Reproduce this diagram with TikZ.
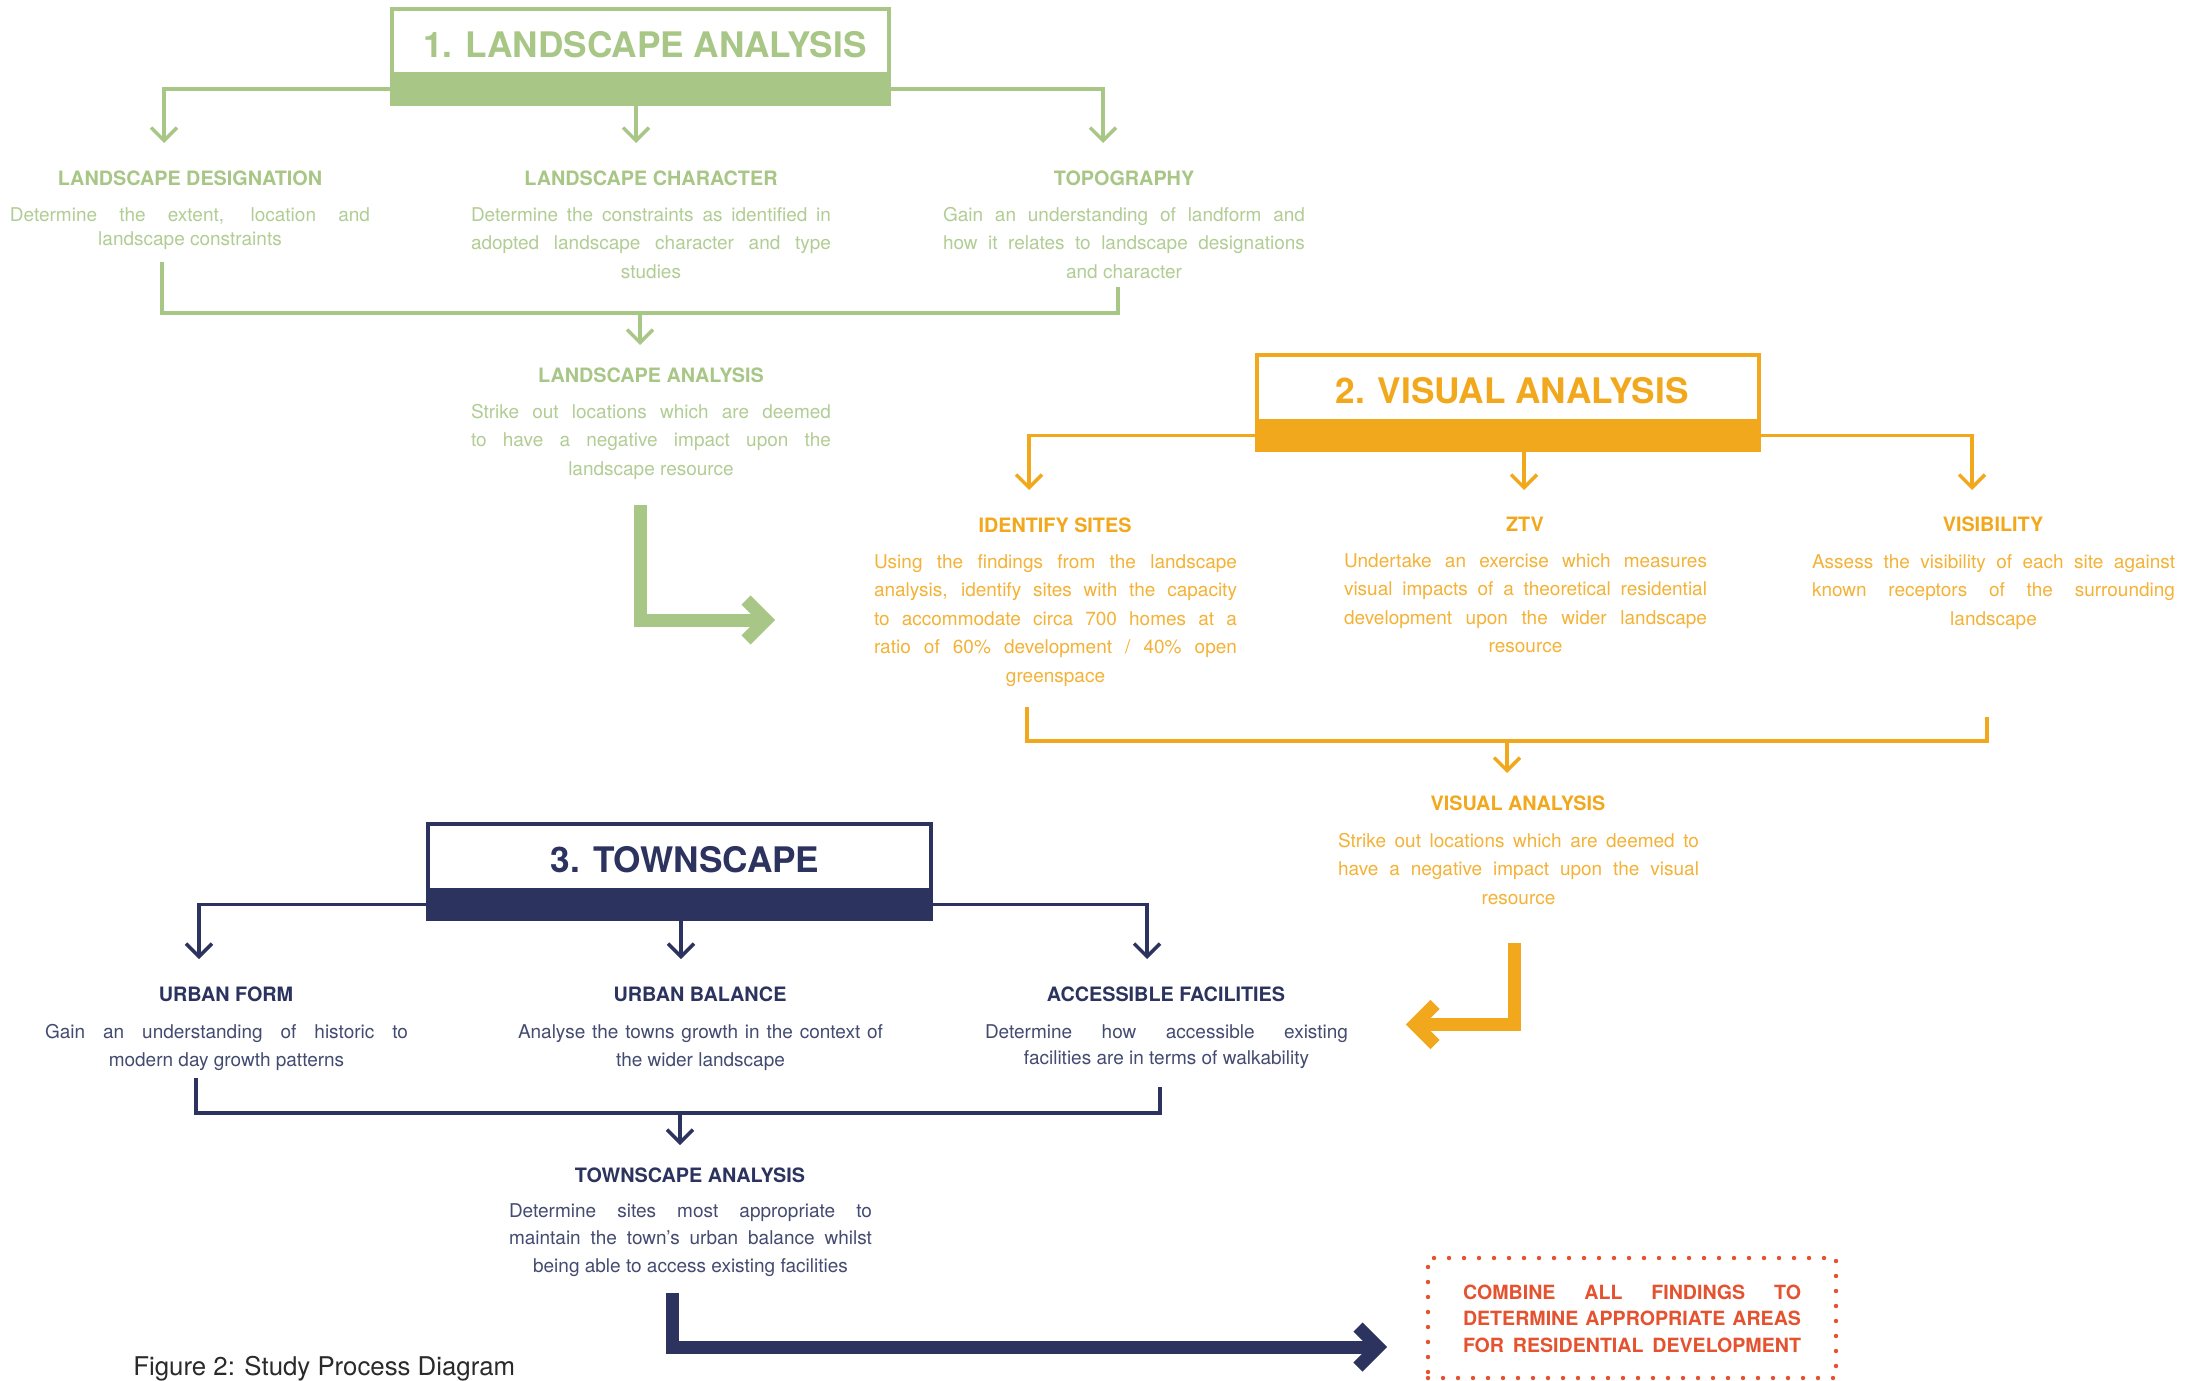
\documentclass[tikz,border=0pt]{standalone}
\usepackage{fontspec}
\setmainfont{TeX Gyre Heros}
\usetikzlibrary{arrows.meta}
\definecolor{lgreen}{HTML}{A8C686}
\definecolor{lorange}{HTML}{F2A81C}
\definecolor{lnavy}{HTML}{2B335E}
\definecolor{lred}{HTML}{E4522F}
\definecolor{capgray}{HTML}{2A2A2A}
\colorlet{gbody}{lgreen!88!white}
\colorlet{obody}{lorange!88!white}
\colorlet{nbody}{lnavy!88!white}
\newcommand\jc{\spaceskip=0pt\xspaceskip=0pt\leftskip=0pt plus 1fil\rightskip=0pt plus -1fil\parfillskip=0pt plus 2fil\hyphenpenalty=10000\exhyphenpenalty=10000\tolerance=10000\hbadness=10000\hfuzz=6pt\parindent=0pt}
\newcommand\jf{\spaceskip=0pt\xspaceskip=0pt\leftskip=0pt\rightskip=0pt\parfillskip=0pt\hyphenpenalty=10000\tolerance=10000\hbadness=10000\hfuzz=6pt\parindent=0pt}
\tikzset{
 head/.style={inner sep=0pt, anchor=base, font=\fontsize{9.9pt}{12pt}\selectfont\bfseries},
 body/.style={inner sep=0pt, anchor=base, text width=#1, font=\fontsize{9.5pt}{14.25pt}\selectfont},
 titletext/.style={inner sep=0pt, anchor=base, font=\fontsize{17.6pt}{20pt}\selectfont\bfseries},
 tbox/.style={draw=#1, line width=2pt, fill=white, inner sep=0pt, minimum height=47.5pt},
 link/.style={draw=#1, line width=1.75pt},
 linkarrow/.style={draw=#1, line width=1.75pt, -{Straight Barb[length=6.5pt,width=13pt]}},
 bigarrow/.style={draw=#1, line width=6.5pt, line join=miter},
 findbox/.style={draw=lred, line width=2.2pt, dash pattern=on 0pt off 7.5pt, line cap=round, inner sep=0pt, minimum width=204pt, minimum height=60pt},
}
\begin{document}
\begin{tikzpicture}[x=0.5pt,y=-0.5pt]
\useasboundingbox (0,0) rectangle (2190,1381);
\fill[white] (0,0) rectangle (2190,1381);

% ---------- 1. LANDSCAPE ANALYSIS ----------
\node[tbox=lgreen, minimum width=248.5pt] (t1) at (640.5,56.5) {};
\fill[lgreen] (t1.south west) rectangle ([yshift=17pt]t1.south east);
\node[titletext, text=lgreen] (t1t) at (645,57) {1. LANDSCAPE ANALYSIS};

\coordinate (a11) at (164,143);
\coordinate (a12) at (636,143);
\coordinate (a13) at (1103,143);
\draw[linkarrow=lgreen] ([yshift=8.5pt]t1.south west) -| (a11);
\draw[linkarrow=lgreen] (a12 |- t1.south) -- (a12);
\draw[linkarrow=lgreen] ([yshift=8.5pt]t1.south east) -| (a13);

\node[head, text=lgreen] (h11) at (190,185) {LANDSCAPE DESIGNATION};
\node[body=180pt, text=gbody, font=\fontsize{9.5pt}{12pt}\selectfont] (b11) at (190,221) {\jc Determine the extent, location and\break landscape constraints\par};
\node[head, text=lgreen] (h12) at (651,185) {LANDSCAPE CHARACTER};
\node[body=180pt, text=gbody] (b12) at (651,221) {\jc Determine the constraints as identified in\break adopted landscape character and type\break studies\par};
\node[head, text=lgreen] (h13) at (1124,185) {TOPOGRAPHY};
\node[body=181pt, text=gbody] (b13) at (1124,221) {\jc Gain an understanding of landform and\break how it relates to landscape designations\break and character\par};

\coordinate (k1l) at (162,262);
\coordinate (k1m) at (640,313);
\coordinate (k1r) at (1118,287);
\coordinate (a14) at (640,345);
\draw[link=lgreen] (k1l) |- (k1m) -| (k1r);
\draw[linkarrow=lgreen] (k1m) -- (a14);

\node[head, text=lgreen] (h14) at (651,382) {LANDSCAPE ANALYSIS};
\node[body=180pt, text=gbody] (b14) at (651,418) {\jc Strike out locations which are deemed\break to have a negative impact upon the\break landscape resource\par};

\coordinate (g1) at (640,505);
\coordinate (g2) at (766,620);
\draw[bigarrow=lgreen] (g1) |- (g2);
\draw[bigarrow=lgreen] ([shift={(-20,-20)}]g2) -- (g2) -- ([shift={(-20,20)}]g2);

% ---------- 2. VISUAL ANALYSIS ----------
\node[tbox=lorange, minimum width=251pt] (t2) at (1508,402.5) {};
\fill[lorange] (t2.south west) rectangle ([yshift=16.5pt]t2.south east);
\node[titletext, text=lorange] (t2t) at (1512,403) {2. VISUAL ANALYSIS};

\coordinate (a21) at (1029,490);
\coordinate (a22) at (1524,490);
\coordinate (a23) at (1972,490);
\draw[linkarrow=lorange] ([yshift=8.25pt]t2.south west) -| (a21);
\draw[linkarrow=lorange] (a22 |- t2.south) -- (a22);
\draw[linkarrow=lorange] ([yshift=8.25pt]t2.south east) -| (a23);

\node[head, text=lorange] (h21) at (1055,532) {IDENTIFY SITES};
\node[body=181.5pt, text=obody] (b21) at (1055.5,568) {\jc Using the findings from the landscape\break analysis, identify sites with the capacity\break to accommodate circa 700 homes at a\break ratio of 60\% development / 40\% open\break greenspace\par};
\node[head, text=lorange] (h22) at (1525,531) {ZTV};
\node[body=181.5pt, text=obody] (b22) at (1525.5,567) {\jc Undertake an exercise which measures\break visual impacts of a theoretical residential\break development upon the wider landscape\break resource\par};
\node[head, text=lorange] (h23) at (1993,531) {VISIBILITY};
\node[body=181.5pt, text=obody] (b23) at (1993.5,568) {\jc Assess the visibility of each site against\break known receptors of the surrounding\break landscape\par};

\coordinate (k2l) at (1027,707);
\coordinate (k2m) at (1507,741);
\coordinate (k2r) at (1987,717);
\coordinate (a24) at (1507,773);
\draw[link=lorange] (k2l) |- (k2m) -| (k2r);
\draw[linkarrow=lorange] (k2m) -- (a24);

\node[head, text=lorange] (h24) at (1518,810) {VISUAL ANALYSIS};
\node[body=180.5pt, text=obody] (b24) at (1518.5,847) {\jc Strike out locations which are deemed to\break have a negative impact upon the visual\break resource\par};

\coordinate (o1) at (1514.5,943);
\coordinate (o2) at (1415,1024.5);
\draw[bigarrow=lorange] (o1) |- (o2);
\draw[bigarrow=lorange] ([shift={(20,-20)}]o2) -- (o2) -- ([shift={(20,20)}]o2);

% ---------- 3. TOWNSCAPE ----------
\node[tbox=lnavy, minimum width=251.5pt] (t3) at (679.5,871.5) {};
\fill[lnavy] (t3.south west) rectangle ([yshift=16.5pt]t3.south east);
\node[titletext, text=lnavy] (t3t) at (685,872) {3. TOWNSCAPE};

\coordinate (a31) at (199,959);
\coordinate (a32) at (681,959);
\coordinate (a33) at (1147,959);
\draw[linkarrow=lnavy] ([yshift=8.25pt]t3.south west) -| (a31);
\draw[linkarrow=lnavy] (a32 |- t3.south) -- (a32);
\draw[linkarrow=lnavy] ([yshift=8.25pt]t3.south east) -| (a33);

\node[head, text=lnavy] (h31) at (226,1001) {URBAN FORM};
\node[body=181.5pt, text=nbody, font=\fontsize{9.5pt}{14pt}\selectfont] (b31) at (226.5,1038) {\jc Gain an understanding of historic to\break modern day growth patterns\par};
\node[head, text=lnavy] (h32) at (700,1001) {URBAN BALANCE};
\node[body=182.5pt, text=nbody, font=\fontsize{9.5pt}{14pt}\selectfont] (b32) at (700.5,1038) {\jc Analyse the towns growth in the context of\break the wider landscape\par};
\node[head, text=lnavy] (h33) at (1166,1001) {ACCESSIBLE FACILITIES};
\node[body=181.5pt, text=nbody, font=\fontsize{9.5pt}{13pt}\selectfont] (b33) at (1166.5,1038) {\jc Determine how accessible existing\break facilities are in terms of walkability\par};

\coordinate (k3l) at (196,1078);
\coordinate (k3m) at (680,1113);
\coordinate (k3r) at (1160,1087);
\coordinate (a34) at (680,1145);
\draw[link=lnavy] (k3l) |- (k3m) -| (k3r);
\draw[linkarrow=lnavy] (k3m) -- (a34);

\node[head, text=lnavy] (h34) at (690,1182) {TOWNSCAPE ANALYSIS};
\node[body=181.5pt, text=nbody, font=\fontsize{9.5pt}{13.75pt}\selectfont] (b34) at (690.5,1217) {\jc Determine sites most appropriate to\break maintain the town’s urban balance whilst\break being able to access existing facilities\par};

\coordinate (n1) at (672,1293);
\coordinate (n2) at (1378,1347);
\draw[bigarrow=lnavy] (n1) |- (n2);
\draw[bigarrow=lnavy] ([shift={(-20,-20)}]n2) -- (n2) -- ([shift={(-20,20)}]n2);

% ---------- final box ----------
\node[findbox] (fin) at (1632,1318) {};
\node[inner sep=0pt, anchor=base, text width=169pt, text=lred, font=\fontsize{9.8pt}{13.25pt}\selectfont\bfseries] (fint) at (1632,1299) {\jf COMBINE ALL FINDINGS TO\break DETERMINE APPROPRIATE AREAS\break FOR RESIDENTIAL DEVELOPMENT\par};

\node[inner sep=0pt, anchor=base west, text=capgray, font=\fontsize{12.9pt}{15pt}\selectfont] (cap) at (133,1375) {Figure 2: Study Process Diagram};
\end{tikzpicture}
\end{document}
